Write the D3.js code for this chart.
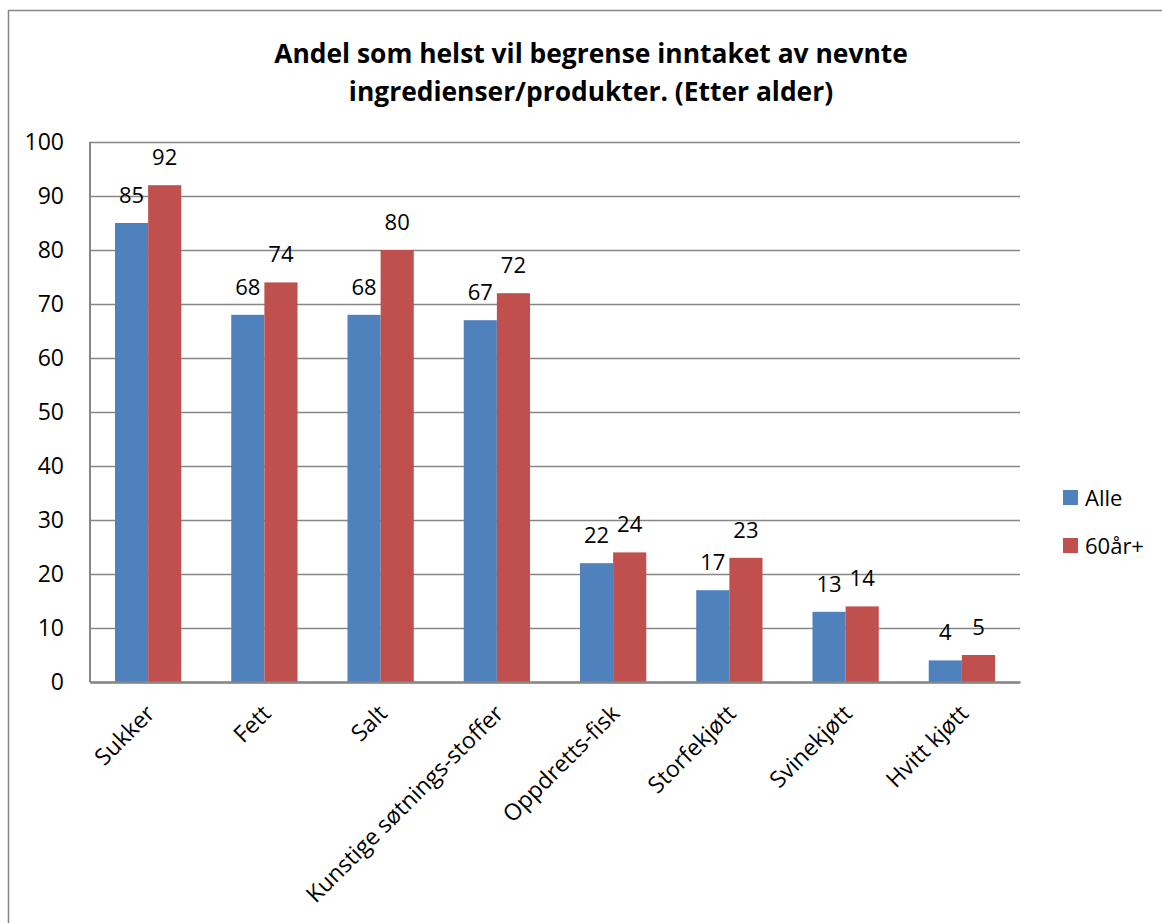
<!DOCTYPE html>
<html>
<head>
<meta charset="utf-8">
<script src="https://cdn.jsdelivr.net/npm/d3@7"></script>
<style>
  body { margin: 0; background: #fff; }
  svg text { font-family: "Open Sans", sans-serif; fill: #000; }
</style>
</head>
<body>
<script>
var categories = ["Sukker", "Fett", "Salt", "Kunstige søtnings-stoffer", "Oppdretts-fisk", "Storfekjøtt", "Svinekjøtt", "Hvitt kjøtt"];
var seriesNames = ["Alle", "60år+"];
var alle = [85, 68, 68, 67, 22, 17, 13, 4];
var sixtyPlus = [92, 74, 80, 72, 24, 23, 14, 5];
var yTicks = [0, 10, 20, 30, 40, 50, 60, 70, 80, 90, 100];
var colors = ["#4f81bd", "#c0504d"];

var totalWidth = 1162;
var totalHeight = 923;
var margins = { top: 142, left: 90, right: 142, bottom: 241 };
var plotWidth = totalWidth - margins.left - margins.right;
var plotHeight = totalHeight - margins.top - margins.bottom;

var translation = function(x, y) {
  return "translate(" + x + "," + y + ")";
};

var rows = categories.map(function(c, i) {
  return { cat: c, values: [alle[i], sixtyPlus[i]] };
});

var scaleX = d3.scaleBand().domain(categories).range([0, plotWidth]).paddingInner(0.43).paddingOuter(0.215);
var scaleS = d3.scaleBand().domain(seriesNames).range([0, scaleX.bandwidth()]);
var scaleY = d3.scaleLinear().domain([0, 100]).range([plotHeight, 0]);

var root = d3.select("body").append("svg")
  .attr("width", totalWidth)
  .attr("height", totalHeight);

root.append("rect")
  .attr("x", 8.5).attr("y", 10.5)
  .attr("width", 1200).attr("height", 1000)
  .attr("fill", "none").attr("stroke", "#868686").attr("stroke-width", 1.5);

root.append("text")
  .attr("x", 591).attr("text-anchor", "middle")
  .style("font-weight", "bold").style("font-size", "26.4px")
  .selectAll("tspan")
  .data(["Andel som helst vil begrense inntaket av nevnte", "ingredienser/produkter. (Etter alder)"])
  .enter().append("tspan")
  .attr("x", 591)
  .attr("y", function(d, i) { return 63 + i * 38; })
  .text(function(d) { return d; });

var svg = root.append("g").attr("transform", translation(margins.left, margins.top));

var yAxis = svg.append("g")
  .call(d3.axisLeft(scaleY).tickValues(yTicks).tickSize(-plotWidth).tickPadding(26));
yAxis.select(".domain").remove();
yAxis.selectAll(".tick line").attr("stroke", "#868686").attr("stroke-width", 1.5);
yAxis.selectAll(".tick text").style("font-size", "23px").style("font-family", "'Open Sans', sans-serif").attr("fill", "#000");

svg.append("line")
  .attr("x1", 0).attr("x2", 0).attr("y1", 0).attr("y2", plotHeight)
  .attr("stroke", "#868686").attr("stroke-width", 2);

var groups = svg.selectAll("g.cat")
  .data(rows)
  .enter().append("g")
  .attr("class", "cat")
  .attr("transform", function(d) { return translation(scaleX(d.cat), 0); });

groups.selectAll("rect")
  .data(function(d) { return d.values.map(function(v, i) { return { s: seriesNames[i], v: v, i: i }; }); })
  .enter().append("rect")
  .attr("x", function(d) { return scaleS(d.s); })
  .attr("y", function(d) { return scaleY(d.v); })
  .attr("width", scaleS.bandwidth())
  .attr("height", function(d) { return plotHeight - scaleY(d.v); })
  .attr("fill", function(d) { return colors[d.i]; });

groups.selectAll("text.val")
  .data(function(d) { return d.values.map(function(v, i) { return { s: seriesNames[i], v: v }; }); })
  .enter().append("text")
  .attr("class", "val")
  .attr("x", function(d) { return scaleS(d.s) + scaleS.bandwidth() / 2; })
  .attr("y", function(d) { return scaleY(d.v) - 20; })
  .attr("text-anchor", "middle")
  .style("font-size", "22px")
  .text(function(d) { return d.v; });

var xAxis = svg.append("g")
  .attr("transform", translation(0, plotHeight))
  .call(d3.axisBottom(scaleX).tickSize(0));
xAxis.select(".domain").attr("stroke", "#868686").attr("stroke-width", 2.5);
xAxis.selectAll(".tick text")
  .style("font-size", "23px").style("font-family", "'Open Sans', sans-serif").attr("fill", "#000")
  .attr("text-anchor", "end")
  .attr("y", 0).attr("dy", 0)
  .attr("transform", "translate(8,33) rotate(-45)");

var legend = root.append("g").attr("transform", translation(1063, 490));
seriesNames.forEach(function(name, i) {
  var row = legend.append("g").attr("transform", translation(0, i * 48));
  row.append("rect").attr("width", 15).attr("height", 15).attr("fill", colors[i]);
  row.append("text").attr("x", 22).attr("y", 16).style("font-size", "22px").text(name);
});
</script>
</body>
</html>
